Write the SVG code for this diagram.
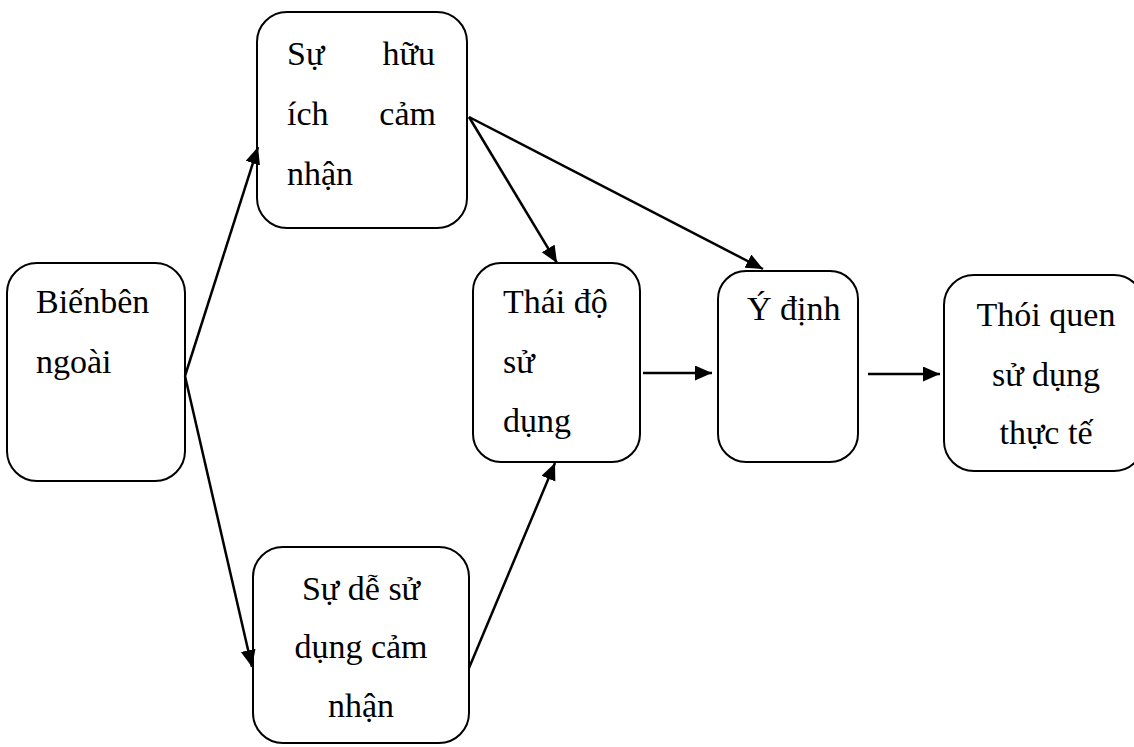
<svg xmlns="http://www.w3.org/2000/svg" width="1134" height="747" viewBox="0 0 1134 747" font-family="Liberation Serif, Times New Roman, serif">
  <style>
    .box { fill: #ffffff; stroke: #000000; stroke-width: 2; }
    text { font-family: "Liberation Serif", "Times New Roman", Times, serif; font-size: 34px; fill: #000000; }
    .mid { text-anchor: middle; }
    .end { text-anchor: end; }
    .link { fill: none; stroke: #000000; stroke-width: 2.5; marker-end: url(#arrow); }
  </style>
  <defs>
    <marker id="arrow" markerUnits="userSpaceOnUse" markerWidth="19" markerHeight="16" refX="17" refY="7.5" orient="auto">
      <path d="M0,0 L17,7.5 L0,15 z" fill="#000000"/>
    </marker>
  </defs>
  <rect width="1134" height="747" fill="#ffffff"/>

  <!-- external variables -->
  <g id="node-external">
    <rect class="box" x="7" y="263" width="178" height="218" rx="30" ry="30"/>
    <text x="36" y="313">Biếnbên</text>
    <text x="36" y="373">ngoài</text>
  </g>

  <!-- perceived usefulness -->
  <g id="node-usefulness">
    <rect class="box" x="257" y="12" width="210" height="216" rx="30" ry="30"/>
    <text x="287" y="65">Sự</text>
    <text class="end" x="435" y="65">hữu</text>
    <text x="287" y="125">ích</text>
    <text class="end" x="436" y="125">cảm</text>
    <text x="287" y="185">nhận</text>
  </g>

  <!-- perceived ease of use -->
  <g id="node-ease">
    <rect class="box" x="253" y="547" width="216" height="196" rx="30" ry="30"/>
    <text class="mid" x="361" y="600">Sự dễ sử</text>
    <text class="mid" x="361" y="658">dụng cảm</text>
    <text class="mid" x="361" y="717">nhận</text>
  </g>

  <!-- attitude -->
  <g id="node-attitude">
    <rect class="box" x="473" y="263" width="167" height="199" rx="28" ry="28"/>
    <text x="503" y="313">Thái độ</text>
    <text x="503" y="373">sử</text>
    <text x="503" y="432">dụng</text>
  </g>

  <!-- intention -->
  <g id="node-intention">
    <rect class="box" x="718" y="271" width="140" height="191" rx="28" ry="28"/>
    <text x="747" y="320">Ý định</text>
  </g>

  <!-- actual usage habit -->
  <g id="node-habit">
    <rect class="box" x="944" y="275" width="200" height="196" rx="30" ry="30"/>
    <text class="mid" x="1046" y="326">Thói quen</text>
    <text class="mid" x="1046" y="386">sử dụng</text>
    <text class="mid" x="1046" y="444">thực tế</text>
  </g>

  <g id="connectors">
    <line class="link" x1="185" y1="376" x2="258" y2="147"/>
    <line class="link" x1="185" y1="376" x2="252" y2="667"/>
    <line class="link" x1="469" y1="668" x2="555" y2="463"/>
    <line class="link" x1="469" y1="117" x2="557" y2="263"/>
    <line class="link" x1="469" y1="117" x2="763" y2="269"/>
    <line class="link" x1="643" y1="373" x2="712" y2="373"/>
    <line class="link" x1="868" y1="374" x2="940" y2="374"/>
  </g>
</svg>
